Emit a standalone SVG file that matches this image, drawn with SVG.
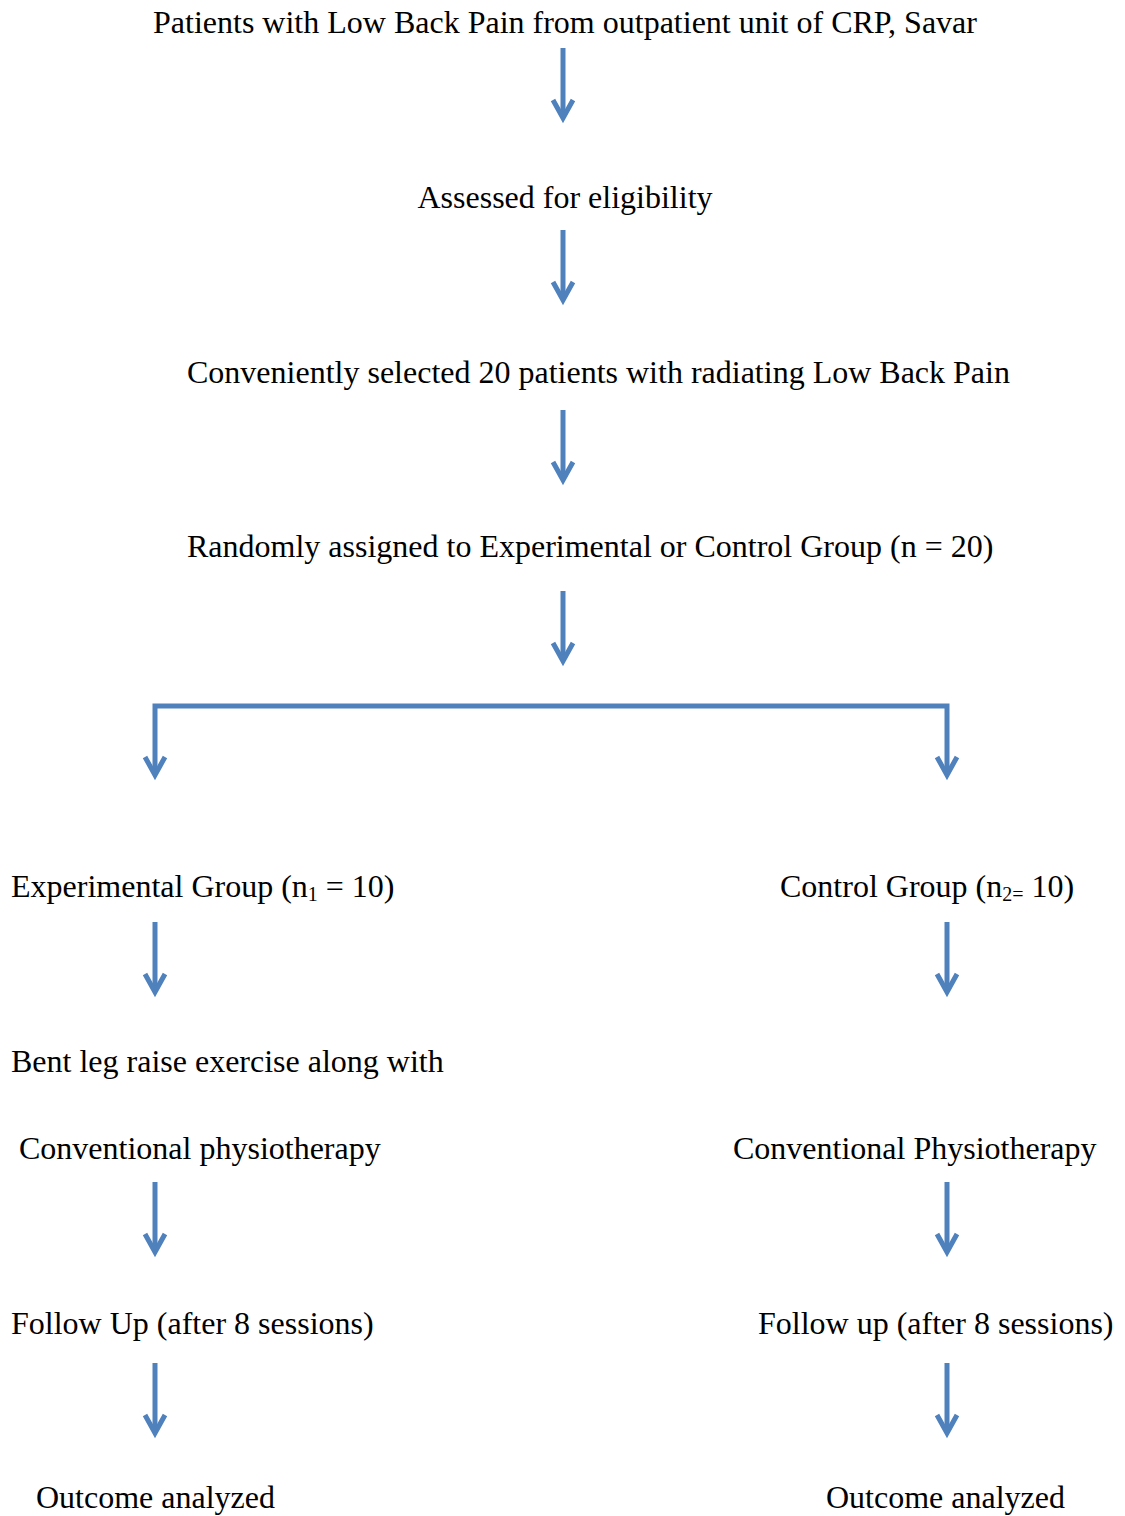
<svg xmlns="http://www.w3.org/2000/svg" width="1125" height="1516" viewBox="0 0 1125 1516">
<style>
text{font-family:"Liberation Serif","Times New Roman",serif;font-size:32px;fill:#000}
.c path,.c polyline{stroke:#4f81bd;stroke-width:5;fill:none}
</style>
<defs>
<g id="arr" stroke="#4f81bd" stroke-width="5" fill="none">
<line x1="0" y1="0" x2="0" y2="68"/>
<polyline points="-10,52 0,70 10,52"/>
</g>
</defs>
<rect width="1125" height="1516" fill="#fff"/>
<g id="n1"><text x="565" y="33" text-anchor="middle">Patients with Low Back Pain from outpatient unit of CRP, Savar</text></g>
<g id="n2"><text x="565" y="208" text-anchor="middle">Assessed for eligibility</text></g>
<g id="n3"><text x="187" y="383">Conveniently selected 20 patients with radiating Low Back Pain</text></g>
<g id="n4"><text x="187" y="557">Randomly assigned to Experimental or Control Group (n = 20)</text></g>
<g id="n5"><text x="11" y="897">Experimental Group (n<tspan font-size="20" dy="4">1</tspan><tspan dy="-4"> = 10)</tspan></text></g>
<g id="n6"><text x="780" y="897">Control Group (n<tspan font-size="20" dy="4">2=</tspan><tspan dy="-4"> 10)</tspan></text></g>
<g id="n7"><text x="11" y="1072">Bent leg raise exercise along with</text><text x="19" y="1159">Conventional physiotherapy</text></g>
<g id="n8"><text x="733" y="1159">Conventional Physiotherapy</text></g>
<g id="n9"><text x="11" y="1334">Follow Up (after 8 sessions)</text></g>
<g id="n10"><text x="758" y="1334">Follow up (after 8 sessions)</text></g>
<g id="n11"><text x="36" y="1508">Outcome analyzed</text></g>
<g id="n12"><text x="826" y="1508">Outcome analyzed</text></g>
<g id="connectors" class="c">
<use href="#arr" x="563" y="48"/>
<use href="#arr" x="563" y="230"/>
<use href="#arr" x="563" y="410"/>
<use href="#arr" x="563" y="591"/>
<path d="M155,773 V706 H947 V773"/>
<polyline points="145,757 155,775 165,757"/>
<polyline points="937,757 947,775 957,757"/>
<use href="#arr" x="155" y="922"/>
<use href="#arr" x="947" y="922"/>
<use href="#arr" x="155" y="1182"/>
<use href="#arr" x="947" y="1182"/>
<use href="#arr" x="155" y="1363"/>
<use href="#arr" x="947" y="1363"/>
</g>
</svg>
